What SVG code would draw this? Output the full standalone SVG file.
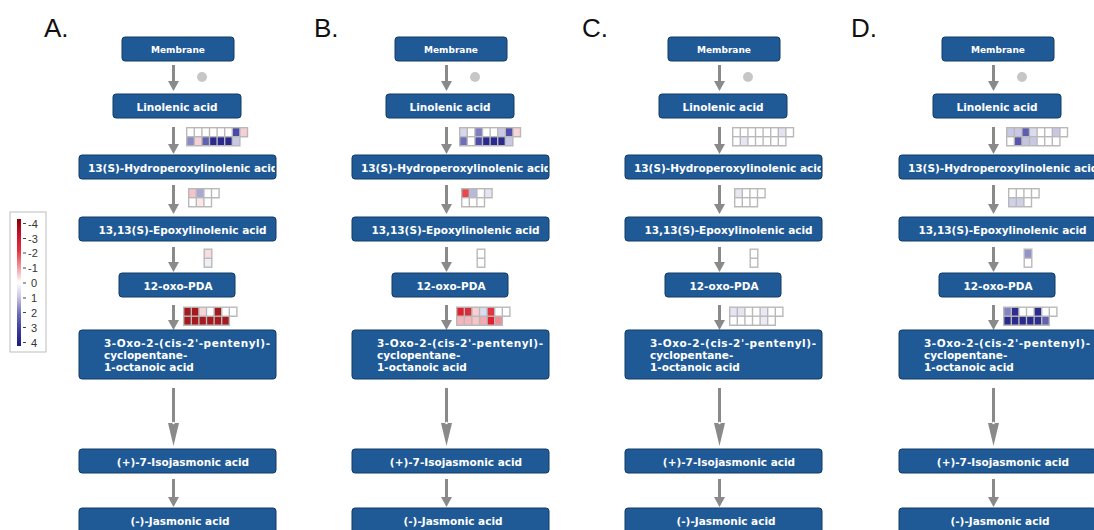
<svg xmlns="http://www.w3.org/2000/svg" width="1094" height="530" viewBox="0 0 1094 530">
<style>
.node rect{fill:#1f5a96;stroke:#123a64;stroke-width:1}
.node text{font-family:"DejaVu Sans","Liberation Sans",sans-serif;font-weight:bold;font-size:10.5px;fill:#ffffff;text-anchor:middle}
.node text.s{font-size:9px}
.node text.l{text-anchor:start}
.conn{stroke:#8a8a8a;stroke-width:3;fill:none;marker-end:url(#ah)}
.connl{stroke:#8a8a8a;stroke-width:3;fill:none;marker-end:url(#ahl)}
.frame{fill:#b9b9b9}
.plabel{font-family:"Liberation Sans",Arial,sans-serif;font-size:26px;fill:#111}
.leg{font-family:"Liberation Sans",Arial,sans-serif;font-size:11px;fill:#333}
.dot{fill:#c6c6c6}
</style>
<defs>
<marker id="ah" markerUnits="userSpaceOnUse" markerWidth="10" markerHeight="11" viewBox="0 0 10 11" refX="0" refY="5.5" orient="auto"><path d="M0,0 L10,5.5 L0,11 z" fill="#8a8a8a"/></marker>
<marker id="ahl" markerUnits="userSpaceOnUse" markerWidth="23" markerHeight="11" viewBox="0 0 23 11" refX="0" refY="5.5" orient="auto"><path d="M0,0 L23,5.5 L0,11 z" fill="#8a8a8a"/></marker>
<clipPath id="clipHP" clipPathUnits="userSpaceOnUse"><rect x="79" y="155" width="196" height="24"/></clipPath>
<linearGradient id="lg" x1="0" y1="0" x2="0" y2="1">
<stop offset="0" stop-color="#8b0000"/><stop offset="0.12" stop-color="#c8102e"/><stop offset="0.25" stop-color="#e8333c"/><stop offset="0.4" stop-color="#f4a9b0"/><stop offset="0.5" stop-color="#ffffff"/><stop offset="0.62" stop-color="#c4c4e2"/><stop offset="0.75" stop-color="#6b6bb8"/><stop offset="0.88" stop-color="#3a3a9c"/><stop offset="1" stop-color="#1a1a80"/>
</linearGradient>
</defs>
<rect width="1094" height="530" fill="#ffffff"/>

<g id="panel-labels">
<text class="plabel" x="44" y="37">A.</text>
<text class="plabel" x="314" y="37">B.</text>
<text class="plabel" x="582" y="37">C.</text>
<text class="plabel" x="851" y="37">D.</text>
</g>

<g id="legend">
<rect x="10" y="212" width="36" height="140" fill="#ffffff" stroke="#bdbdbd"/>
<rect x="17" y="219" width="4" height="127" fill="url(#lg)"/>
<g stroke="#444" stroke-width="1">
<path d="M23,223.5h3M23,238.5h3M23,253h3M23,268h3M23,283h3M23,298h3M23,312.5h3M23,327.5h3M23,342.5h3"/>
</g>
<text class="leg" x="28" y="227.5">-4</text>
<text class="leg" x="28" y="242.5">-3</text>
<text class="leg" x="28" y="257">-2</text>
<text class="leg" x="28" y="272">-1</text>
<text class="leg" x="31" y="287">0</text>
<text class="leg" x="31" y="302">1</text>
<text class="leg" x="31" y="316.5">2</text>
<text class="leg" x="31" y="331.5">3</text>
<text class="leg" x="31" y="346.5">4</text>
</g>

<g id="connectors">
<g transform="translate(0,0)">
<path class="conn" d="M173.5,65V81"/><path class="conn" d="M173.5,127V144"/><path class="conn" d="M173.5,185V204"/><path class="conn" d="M173.5,247V262"/><path class="conn" d="M173.5,305V320"/><path class="connl" d="M173.5,388V423"/><circle cx="173.5" cy="423" r="1.3" fill="#fff"/><path class="conn" d="M173.5,479V497"/>
</g>
<g transform="translate(273,0)">
<path class="conn" d="M173.5,65V81"/><path class="conn" d="M173.5,127V144"/><path class="conn" d="M173.5,185V204"/><path class="conn" d="M173.5,247V262"/><path class="conn" d="M173.5,305V320"/><path class="connl" d="M173.5,388V423"/><circle cx="173.5" cy="423" r="1.3" fill="#fff"/><path class="conn" d="M173.5,479V497"/>
</g>
<g transform="translate(546,0)">
<path class="conn" d="M173.5,65V81"/><path class="conn" d="M173.5,127V144"/><path class="conn" d="M173.5,185V204"/><path class="conn" d="M173.5,247V262"/><path class="conn" d="M173.5,305V320"/><path class="connl" d="M173.5,388V423"/><circle cx="173.5" cy="423" r="1.3" fill="#fff"/><path class="conn" d="M173.5,479V497"/>
</g>
<g transform="translate(820,0)">
<path class="conn" d="M173.5,65V81"/><path class="conn" d="M173.5,127V144"/><path class="conn" d="M173.5,185V204"/><path class="conn" d="M173.5,247V262"/><path class="conn" d="M173.5,305V320"/><path class="connl" d="M173.5,388V423"/><circle cx="173.5" cy="423" r="1.3" fill="#fff"/><path class="conn" d="M173.5,479V497"/>
</g>
</g>

<!-- Panel A -->
<g id="panelA">
<g id="A-membrane" class="node"><rect x="122" y="37" width="112" height="24" rx="3"/><text class="s" x="178" y="52.5">Membrane</text></g>
<g id="A-linolenic" class="node"><rect x="113" y="94" width="128" height="24" rx="3"/><text x="177" y="111">Linolenic acid</text></g>
<g id="A-hydroperoxy" class="node"><rect x="79" y="155" width="197" height="24" rx="3"/><text class="l" x="88" y="172" clip-path="url(#clipHP)">13(S)-Hydroperoxylinolenic acid</text></g>
<g id="A-epoxy" class="node"><rect x="79" y="217" width="197" height="24" rx="3"/><text x="182.5" y="234">13,13(S)-Epoxylinolenic acid</text></g>
<g id="A-opda" class="node"><rect x="119" y="273" width="116" height="24" rx="3"/><text x="178" y="290">12-oxo-PDA</text></g>
<g id="A-opc8" class="node"><rect x="79" y="330" width="197" height="49" rx="3"/><text class="l" x="104" y="347" textLength="166">3-Oxo-2-(cis-2'-pentenyl)-</text><text class="l" x="104" y="359">cyclopentane-</text><text class="l" x="104" y="371">1-octanoic acid</text></g>
<g id="A-isoja" class="node"><rect x="79" y="449" width="197" height="24" rx="3"/><text x="183" y="466">(+)-7-Isojasmonic acid</text></g>
<g id="A-ja" class="node"><rect x="79" y="508" width="197" height="30" rx="3"/><text x="180" y="525">(-)-Jasmonic acid</text></g>
<g id="A-annot">
<circle class="dot" cx="202" cy="77" r="5"/>
<g transform="translate(186,127)"><polygon class="frame" points="0,0 62.2,0 62.2,10.4 54.6,10.4 54.6,19.4 0,19.4"/>
<rect x="1.4" y="1.4" width="6.2" height="7.6" fill="#fff"/><rect x="9" y="1.4" width="6.2" height="7.6" fill="#fff"/><rect x="16.6" y="1.4" width="6.2" height="7.6" fill="#fff"/><rect x="24.2" y="1.4" width="6.2" height="7.6" fill="#fff"/><rect x="31.8" y="1.4" width="6.2" height="7.6" fill="#fff"/><rect x="39.4" y="1.4" width="6.2" height="7.6" fill="#fff"/><rect x="47" y="1.4" width="6.2" height="7.6" fill="#4a4aa6"/><rect x="54.6" y="1.4" width="6.2" height="7.6" fill="#f6d0d4"/>
<rect x="1.4" y="10.4" width="6.2" height="7.6" fill="#8a8ac8"/><rect x="9" y="10.4" width="6.2" height="7.6" fill="#f6d0d4"/><rect x="16.6" y="10.4" width="6.2" height="7.6" fill="#6060b0"/><rect x="24.2" y="10.4" width="6.2" height="7.6" fill="#2a2a8e"/><rect x="31.8" y="10.4" width="6.2" height="7.6" fill="#2a2a8e"/><rect x="39.4" y="10.4" width="6.2" height="7.6" fill="#2a2a8e"/><rect x="47" y="10.4" width="6.2" height="7.6" fill="#c8c8e4"/>
</g>
<g transform="translate(188,188)"><polygon class="frame" points="0,0 31.8,0 31.8,10.4 24.2,10.4 24.2,19.4 0,19.4"/>
<rect x="1.4" y="1.4" width="6.2" height="7.6" fill="#f4c4ca"/><rect x="9" y="1.4" width="6.2" height="7.6" fill="#a8a8d6"/><rect x="16.6" y="1.4" width="6.2" height="7.6" fill="#fff"/><rect x="24.2" y="1.4" width="6.2" height="7.6" fill="#fff"/>
<rect x="1.4" y="10.4" width="6.2" height="7.6" fill="#fff"/><rect x="9" y="10.4" width="6.2" height="7.6" fill="#fbe6e9"/><rect x="16.6" y="10.4" width="6.2" height="7.6" fill="#fff"/>
</g>
<g transform="translate(203.5,248.5)"><rect class="frame" width="9" height="19.4"/>
<rect x="1.4" y="1.4" width="6.2" height="7.6" fill="#f9dde0"/><rect x="1.4" y="10.4" width="6.2" height="7.6" fill="#efeff7"/>
</g>
<g transform="translate(183,306.5)"><polygon class="frame" points="0,0 54.6,0 54.6,10.4 47,10.4 47,19.4 0,19.4"/>
<rect x="1.4" y="1.4" width="6.2" height="7.6" fill="#a51a1e"/><rect x="9" y="1.4" width="6.2" height="7.6" fill="#a51a1e"/><rect x="16.6" y="1.4" width="6.2" height="7.6" fill="#f7d4d8"/><rect x="24.2" y="1.4" width="6.2" height="7.6" fill="#fff"/><rect x="31.8" y="1.4" width="6.2" height="7.6" fill="#a51a1e"/><rect x="39.4" y="1.4" width="6.2" height="7.6" fill="#fff"/><rect x="47" y="1.4" width="6.2" height="7.6" fill="#fff"/>
<rect x="1.4" y="10.4" width="6.2" height="7.6" fill="#a51a1e"/><rect x="9" y="10.4" width="6.2" height="7.6" fill="#a51a1e"/><rect x="16.6" y="10.4" width="6.2" height="7.6" fill="#a51a1e"/><rect x="24.2" y="10.4" width="6.2" height="7.6" fill="#a51a1e"/><rect x="31.8" y="10.4" width="6.2" height="7.6" fill="#a51a1e"/><rect x="39.4" y="10.4" width="6.2" height="7.6" fill="#a51a1e"/>
</g>
</g>
</g>

<!-- Panel B -->
<g id="panelB" transform="translate(273,0)">
<g id="B-membrane" class="node"><rect x="122" y="37" width="112" height="24" rx="3"/><text class="s" x="178" y="52.5">Membrane</text></g>
<g id="B-linolenic" class="node"><rect x="113" y="94" width="128" height="24" rx="3"/><text x="177" y="111">Linolenic acid</text></g>
<g id="B-hydroperoxy" class="node"><rect x="79" y="155" width="197" height="24" rx="3"/><text class="l" x="88" y="172" clip-path="url(#clipHP)">13(S)-Hydroperoxylinolenic acid</text></g>
<g id="B-epoxy" class="node"><rect x="79" y="217" width="197" height="24" rx="3"/><text x="182.5" y="234">13,13(S)-Epoxylinolenic acid</text></g>
<g id="B-opda" class="node"><rect x="119" y="273" width="116" height="24" rx="3"/><text x="178" y="290">12-oxo-PDA</text></g>
<g id="B-opc8" class="node"><rect x="79" y="330" width="197" height="49" rx="3"/><text class="l" x="104" y="347" textLength="166">3-Oxo-2-(cis-2'-pentenyl)-</text><text class="l" x="104" y="359">cyclopentane-</text><text class="l" x="104" y="371">1-octanoic acid</text></g>
<g id="B-isoja" class="node"><rect x="79" y="449" width="197" height="24" rx="3"/><text x="183" y="466">(+)-7-Isojasmonic acid</text></g>
<g id="B-ja" class="node"><rect x="79" y="508" width="197" height="30" rx="3"/><text x="180" y="525">(-)-Jasmonic acid</text></g>
<g id="B-annot">
<circle class="dot" cx="202" cy="77" r="5"/>
<g transform="translate(186,127)"><polygon class="frame" points="0,0 62.2,0 62.2,10.4 54.6,10.4 54.6,19.4 0,19.4"/>
<rect x="1.4" y="1.4" width="6.2" height="7.6" fill="#d6d6ec"/><rect x="9" y="1.4" width="6.2" height="7.6" fill="#fff"/><rect x="16.6" y="1.4" width="6.2" height="7.6" fill="#7e7ec2"/><rect x="24.2" y="1.4" width="6.2" height="7.6" fill="#fff"/><rect x="31.8" y="1.4" width="6.2" height="7.6" fill="#fff"/><rect x="39.4" y="1.4" width="6.2" height="7.6" fill="#cacae6"/><rect x="47" y="1.4" width="6.2" height="7.6" fill="#5050aa"/><rect x="54.6" y="1.4" width="6.2" height="7.6" fill="#f9d4d8"/>
<rect x="1.4" y="10.4" width="6.2" height="7.6" fill="#6e6eba"/><rect x="9" y="10.4" width="6.2" height="7.6" fill="#fff"/><rect x="16.6" y="10.4" width="6.2" height="7.6" fill="#4c4caa"/><rect x="24.2" y="10.4" width="6.2" height="7.6" fill="#2a2a8e"/><rect x="31.8" y="10.4" width="6.2" height="7.6" fill="#2a2a8e"/><rect x="39.4" y="10.4" width="6.2" height="7.6" fill="#2a2a8e"/><rect x="47" y="10.4" width="6.2" height="7.6" fill="#c8c8e4"/>
</g>
<g transform="translate(188,188)"><polygon class="frame" points="0,0 31.8,0 31.8,10.4 24.2,10.4 24.2,19.4 0,19.4"/>
<rect x="1.4" y="1.4" width="6.2" height="7.6" fill="#e8474f"/><rect x="9" y="1.4" width="6.2" height="7.6" fill="#b8b8de"/><rect x="16.6" y="1.4" width="6.2" height="7.6" fill="#fff"/><rect x="24.2" y="1.4" width="6.2" height="7.6" fill="#e4e4f2"/>
<rect x="1.4" y="10.4" width="6.2" height="7.6" fill="#fff"/><rect x="9" y="10.4" width="6.2" height="7.6" fill="#fff"/><rect x="16.6" y="10.4" width="6.2" height="7.6" fill="#fff"/>
</g>
<g transform="translate(203.5,248.5)"><rect class="frame" width="9" height="19.4"/>
<rect x="1.4" y="1.4" width="6.2" height="7.6" fill="#fff"/><rect x="1.4" y="10.4" width="6.2" height="7.6" fill="#fff"/>
</g>
<g transform="translate(183,306.5)"><polygon class="frame" points="0,0 54.6,0 54.6,10.4 47,10.4 47,19.4 0,19.4"/>
<rect x="1.4" y="1.4" width="6.2" height="7.6" fill="#e0202c"/><rect x="9" y="1.4" width="6.2" height="7.6" fill="#d8303a"/><rect x="16.6" y="1.4" width="6.2" height="7.6" fill="#f7d0d4"/><rect x="24.2" y="1.4" width="6.2" height="7.6" fill="#dcdcef"/><rect x="31.8" y="1.4" width="6.2" height="7.6" fill="#e23442"/><rect x="39.4" y="1.4" width="6.2" height="7.6" fill="#fff"/><rect x="47" y="1.4" width="6.2" height="7.6" fill="#fff"/>
<rect x="1.4" y="10.4" width="6.2" height="7.6" fill="#f5b5bb"/><rect x="9" y="10.4" width="6.2" height="7.6" fill="#f5b5bb"/><rect x="16.6" y="10.4" width="6.2" height="7.6" fill="#f7c4c9"/><rect x="24.2" y="10.4" width="6.2" height="7.6" fill="#f3aab1"/><rect x="31.8" y="10.4" width="6.2" height="7.6" fill="#e2202e"/><rect x="39.4" y="10.4" width="6.2" height="7.6" fill="#f08c94"/>
</g>
</g>
</g>

<!-- Panel C -->
<g id="panelC" transform="translate(546,0)">
<g id="C-membrane" class="node"><rect x="122" y="37" width="112" height="24" rx="3"/><text class="s" x="178" y="52.5">Membrane</text></g>
<g id="C-linolenic" class="node"><rect x="113" y="94" width="128" height="24" rx="3"/><text x="177" y="111">Linolenic acid</text></g>
<g id="C-hydroperoxy" class="node"><rect x="79" y="155" width="197" height="24" rx="3"/><text class="l" x="88" y="172" clip-path="url(#clipHP)">13(S)-Hydroperoxylinolenic acid</text></g>
<g id="C-epoxy" class="node"><rect x="79" y="217" width="197" height="24" rx="3"/><text x="182.5" y="234">13,13(S)-Epoxylinolenic acid</text></g>
<g id="C-opda" class="node"><rect x="119" y="273" width="116" height="24" rx="3"/><text x="178" y="290">12-oxo-PDA</text></g>
<g id="C-opc8" class="node"><rect x="79" y="330" width="197" height="49" rx="3"/><text class="l" x="104" y="347" textLength="166">3-Oxo-2-(cis-2'-pentenyl)-</text><text class="l" x="104" y="359">cyclopentane-</text><text class="l" x="104" y="371">1-octanoic acid</text></g>
<g id="C-isoja" class="node"><rect x="79" y="449" width="197" height="24" rx="3"/><text x="183" y="466">(+)-7-Isojasmonic acid</text></g>
<g id="C-ja" class="node"><rect x="79" y="508" width="197" height="30" rx="3"/><text x="180" y="525">(-)-Jasmonic acid</text></g>
<g id="C-annot">
<circle class="dot" cx="202" cy="77" r="5"/>
<g transform="translate(186,127)"><polygon class="frame" points="0,0 62.2,0 62.2,10.4 54.6,10.4 54.6,19.4 0,19.4"/>
<rect x="1.4" y="1.4" width="6.2" height="7.6" fill="#fff"/><rect x="9" y="1.4" width="6.2" height="7.6" fill="#fff"/><rect x="16.6" y="1.4" width="6.2" height="7.6" fill="#fff"/><rect x="24.2" y="1.4" width="6.2" height="7.6" fill="#fff"/><rect x="31.8" y="1.4" width="6.2" height="7.6" fill="#fff"/><rect x="39.4" y="1.4" width="6.2" height="7.6" fill="#fff"/><rect x="47" y="1.4" width="6.2" height="7.6" fill="#e2e2f1"/><rect x="54.6" y="1.4" width="6.2" height="7.6" fill="#fff"/>
<rect x="1.4" y="10.4" width="6.2" height="7.6" fill="#fff"/><rect x="9" y="10.4" width="6.2" height="7.6" fill="#e6e6f3"/><rect x="16.6" y="10.4" width="6.2" height="7.6" fill="#fff"/><rect x="24.2" y="10.4" width="6.2" height="7.6" fill="#fff"/><rect x="31.8" y="10.4" width="6.2" height="7.6" fill="#fff"/><rect x="39.4" y="10.4" width="6.2" height="7.6" fill="#fff"/><rect x="47" y="10.4" width="6.2" height="7.6" fill="#fff"/>
</g>
<g transform="translate(188,188)"><polygon class="frame" points="0,0 31.8,0 31.8,10.4 24.2,10.4 24.2,19.4 0,19.4"/>
<rect x="1.4" y="1.4" width="6.2" height="7.6" fill="#e8e8f4"/><rect x="9" y="1.4" width="6.2" height="7.6" fill="#fff"/><rect x="16.6" y="1.4" width="6.2" height="7.6" fill="#fff"/><rect x="24.2" y="1.4" width="6.2" height="7.6" fill="#fff"/>
<rect x="1.4" y="10.4" width="6.2" height="7.6" fill="#fff"/><rect x="9" y="10.4" width="6.2" height="7.6" fill="#fff"/><rect x="16.6" y="10.4" width="6.2" height="7.6" fill="#fff"/>
</g>
<g transform="translate(203.5,248.5)"><rect class="frame" width="9" height="19.4"/>
<rect x="1.4" y="1.4" width="6.2" height="7.6" fill="#fff"/><rect x="1.4" y="10.4" width="6.2" height="7.6" fill="#fff"/>
</g>
<g transform="translate(183,306.5)"><polygon class="frame" points="0,0 54.6,0 54.6,10.4 47,10.4 47,19.4 0,19.4"/>
<rect x="1.4" y="1.4" width="6.2" height="7.6" fill="#e4e4f2"/><rect x="9" y="1.4" width="6.2" height="7.6" fill="#e4e4f2"/><rect x="16.6" y="1.4" width="6.2" height="7.6" fill="#fff"/><rect x="24.2" y="1.4" width="6.2" height="7.6" fill="#fff"/><rect x="31.8" y="1.4" width="6.2" height="7.6" fill="#e8e8f4"/><rect x="39.4" y="1.4" width="6.2" height="7.6" fill="#fff"/><rect x="47" y="1.4" width="6.2" height="7.6" fill="#fff"/>
<rect x="1.4" y="10.4" width="6.2" height="7.6" fill="#fff"/><rect x="9" y="10.4" width="6.2" height="7.6" fill="#fff"/><rect x="16.6" y="10.4" width="6.2" height="7.6" fill="#fff"/><rect x="24.2" y="10.4" width="6.2" height="7.6" fill="#fff"/><rect x="31.8" y="10.4" width="6.2" height="7.6" fill="#ebebf5"/><rect x="39.4" y="10.4" width="6.2" height="7.6" fill="#fff"/>
</g>
</g>
</g>

<!-- Panel D -->
<g id="panelD" transform="translate(820,0)">
<g id="D-membrane" class="node"><rect x="122" y="37" width="112" height="24" rx="3"/><text class="s" x="178" y="52.5">Membrane</text></g>
<g id="D-linolenic" class="node"><rect x="113" y="94" width="128" height="24" rx="3"/><text x="177" y="111">Linolenic acid</text></g>
<g id="D-hydroperoxy" class="node"><rect x="79" y="155" width="197" height="24" rx="3"/><text class="l" x="88" y="172" clip-path="url(#clipHP)">13(S)-Hydroperoxylinolenic acid</text></g>
<g id="D-epoxy" class="node"><rect x="79" y="217" width="197" height="24" rx="3"/><text x="182.5" y="234">13,13(S)-Epoxylinolenic acid</text></g>
<g id="D-opda" class="node"><rect x="119" y="273" width="116" height="24" rx="3"/><text x="178" y="290">12-oxo-PDA</text></g>
<g id="D-opc8" class="node"><rect x="79" y="330" width="197" height="49" rx="3"/><text class="l" x="104" y="347" textLength="166">3-Oxo-2-(cis-2'-pentenyl)-</text><text class="l" x="104" y="359">cyclopentane-</text><text class="l" x="104" y="371">1-octanoic acid</text></g>
<g id="D-isoja" class="node"><rect x="79" y="449" width="197" height="24" rx="3"/><text x="183" y="466">(+)-7-Isojasmonic acid</text></g>
<g id="D-ja" class="node"><rect x="79" y="508" width="197" height="30" rx="3"/><text x="180" y="525">(-)-Jasmonic acid</text></g>
<g id="D-annot">
<circle class="dot" cx="202" cy="77" r="5"/>
<g transform="translate(186,127)"><polygon class="frame" points="0,0 62.2,0 62.2,10.4 54.6,10.4 54.6,19.4 0,19.4"/>
<rect x="1.4" y="1.4" width="6.2" height="7.6" fill="#c8c8e4"/><rect x="9" y="1.4" width="6.2" height="7.6" fill="#c8c8e4"/><rect x="16.6" y="1.4" width="6.2" height="7.6" fill="#5c5cb2"/><rect x="24.2" y="1.4" width="6.2" height="7.6" fill="#dcdcef"/><rect x="31.8" y="1.4" width="6.2" height="7.6" fill="#fff"/><rect x="39.4" y="1.4" width="6.2" height="7.6" fill="#fff"/><rect x="47" y="1.4" width="6.2" height="7.6" fill="#c8c8e4"/><rect x="54.6" y="1.4" width="6.2" height="7.6" fill="#fff"/>
<rect x="1.4" y="10.4" width="6.2" height="7.6" fill="#fff"/><rect x="9" y="10.4" width="6.2" height="7.6" fill="#5656ae"/><rect x="16.6" y="10.4" width="6.2" height="7.6" fill="#c4c4e2"/><rect x="24.2" y="10.4" width="6.2" height="7.6" fill="#c8c8e4"/><rect x="31.8" y="10.4" width="6.2" height="7.6" fill="#fff"/><rect x="39.4" y="10.4" width="6.2" height="7.6" fill="#fff"/><rect x="47" y="10.4" width="6.2" height="7.6" fill="#fff"/>
</g>
<g transform="translate(188,188)"><polygon class="frame" points="0,0 31.8,0 31.8,10.4 24.2,10.4 24.2,19.4 0,19.4"/>
<rect x="1.4" y="1.4" width="6.2" height="7.6" fill="#fff"/><rect x="9" y="1.4" width="6.2" height="7.6" fill="#fff"/><rect x="16.6" y="1.4" width="6.2" height="7.6" fill="#fff"/><rect x="24.2" y="1.4" width="6.2" height="7.6" fill="#fff"/>
<rect x="1.4" y="10.4" width="6.2" height="7.6" fill="#d0d0e8"/><rect x="9" y="10.4" width="6.2" height="7.6" fill="#cfcfe8"/><rect x="16.6" y="10.4" width="6.2" height="7.6" fill="#fff"/>
</g>
<g transform="translate(203.5,248.5)"><rect class="frame" width="9" height="19.4"/>
<rect x="1.4" y="1.4" width="6.2" height="7.6" fill="#9494cc"/><rect x="1.4" y="10.4" width="6.2" height="7.6" fill="#fff"/>
</g>
<g transform="translate(183,306.5)"><polygon class="frame" points="0,0 54.6,0 54.6,10.4 47,10.4 47,19.4 0,19.4"/>
<rect x="1.4" y="1.4" width="6.2" height="7.6" fill="#8484c4"/><rect x="9" y="1.4" width="6.2" height="7.6" fill="#2e2e90"/><rect x="16.6" y="1.4" width="6.2" height="7.6" fill="#fff"/><rect x="24.2" y="1.4" width="6.2" height="7.6" fill="#fff"/><rect x="31.8" y="1.4" width="6.2" height="7.6" fill="#2c2c8e"/><rect x="39.4" y="1.4" width="6.2" height="7.6" fill="#fff"/><rect x="47" y="1.4" width="6.2" height="7.6" fill="#fff"/>
<rect x="1.4" y="10.4" width="6.2" height="7.6" fill="#2a2a8c"/><rect x="9" y="10.4" width="6.2" height="7.6" fill="#2a2a8c"/><rect x="16.6" y="10.4" width="6.2" height="7.6" fill="#2a2a8c"/><rect x="24.2" y="10.4" width="6.2" height="7.6" fill="#2a2a8c"/><rect x="31.8" y="10.4" width="6.2" height="7.6" fill="#2e2e90"/><rect x="39.4" y="10.4" width="6.2" height="7.6" fill="#6262b4"/>
</g>
</g>
</g>
</svg>
